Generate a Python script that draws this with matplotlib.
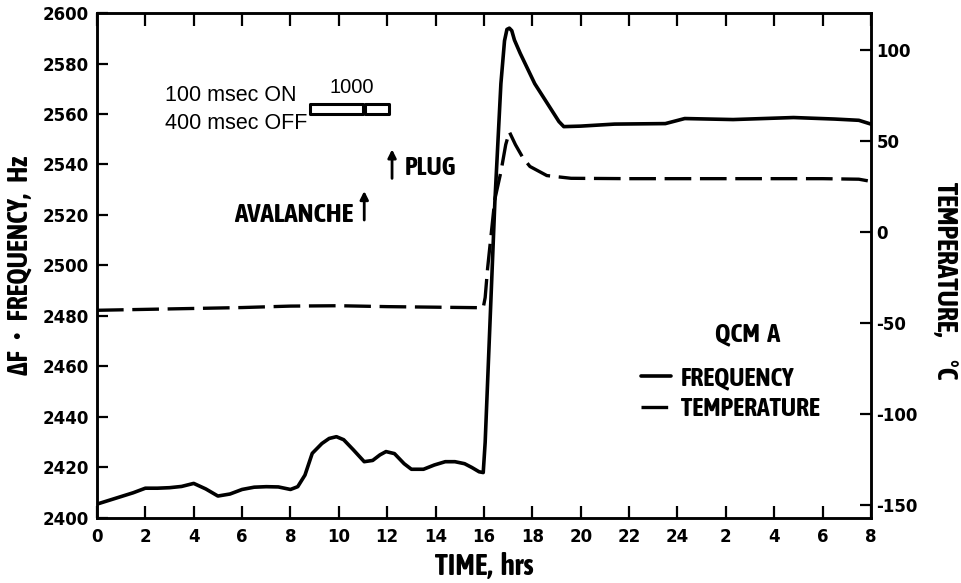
import matplotlib
matplotlib.use("Agg")
from matplotlib import pyplot as plt
from matplotlib.patches import Rectangle

NARROW = ['Asap Condensed', 'DejaVu Sans']
plt.rcParams['font.family'] = ['DejaVu Sans']
plt.rcParams['axes.unicode_minus'] = False

# frequency (left axis), hours from start
freq_t = [0, 0.5, 1, 1.5, 2, 2.5, 3, 3.5, 4, 4.5, 5, 5.5, 6, 6.5, 7, 7.5, 8, 8.3,
          8.6, 8.9, 9.3, 9.6, 9.9, 10.2, 10.6, 11.05, 11.4, 11.7, 11.95, 12.3, 12.7,
          13.0, 13.5, 13.95, 14.4, 14.8, 15.2, 15.5, 15.8, 15.97,
          16.05, 16.45, 16.7, 16.85, 16.95, 17.05, 17.15, 17.26, 17.5, 17.7, 18.1,
          18.7, 19.1, 19.3, 20.0, 21.4, 23.5, 24.3, 26.3, 28.8, 30.5, 31.5, 32]
freq_hz = [2405.5, 2407, 2408.5, 2410, 2411.8, 2411.8, 2412, 2412.5, 2413.7, 2411.5,
           2408.7, 2409.5, 2411.3, 2412.2, 2412.4, 2412.3, 2411.3, 2412.4,
           2417, 2425.6, 2429.5, 2431.5, 2432.2, 2431, 2427, 2422.3, 2422.8, 2425,
           2426.3, 2425.5, 2421.5, 2419.3, 2419.3, 2421, 2422.3, 2422.3, 2421.5,
           2420, 2418.3, 2418,
           2430, 2525, 2572, 2589, 2593.5, 2594, 2593, 2589.3, 2584, 2580, 2572,
           2563, 2557, 2555, 2555.2, 2556, 2556.2, 2558.2, 2557.8, 2558.6, 2558, 2557.5, 2556]

# temperature (right axis), deg C
temp_t = [0, 2, 4, 6, 8, 10, 12, 14, 15.97, 16.05, 16.15, 16.45, 16.7, 16.9, 17.05,
          17.3, 17.6, 17.9, 18.6, 19.6, 22, 24, 26, 28, 30, 31.5, 32]
temp_c = [-43, -42.5, -42, -41.5, -40.7, -40.5, -41, -41.3, -41.6, -36, -20, 18, 33,
          48, 55, 48, 41, 36, 31, 29.5, 29.3, 29.3, 29.3, 29.3, 29.3, 29, 27.8]

x_ticks = list(range(0, 33, 2))
x_labels = ['0', '2', '4', '6', '8', '10', '12', '14', '16', '18', '20', '22', '24',
            '2', '4', '6', '8']
freq_ticks = list(range(2400, 2601, 20))
temp_ticks = [-150, -100, -50, 0, 50, 100]

# pulse periods (hours) shown as boxes near the top
pulse_periods = [(8.8, 11.0), (11.1, 12.07)]
avalanche_t = 11.05
plug_t = 12.2

fig = plt.figure(figsize=(9.61, 5.83), dpi=100)
ax = fig.add_axes([0.1009, 0.1115, 0.8054, 0.8662])
ax2 = ax.twinx()

ax.plot(freq_t, freq_hz, color='black', lw=2.6, solid_joinstyle='round',
        solid_capstyle='round', label='FREQUENCY')
ax2.plot(temp_t, temp_c, color='black', lw=2.4, dashes=(8, 2.6),
         label='TEMPERATURE')

ax.set_xlim(0, 32)
ax.set_ylim(2400, 2600)
ax2.set_ylim(-157.1, 120.3)
ax.set_xticks(x_ticks)
ax.set_xticklabels(x_labels)
ax.set_yticks(freq_ticks)
ax2.set_yticks(temp_ticks)

for a in (ax, ax2):
    for s in a.spines.values():
        s.set_linewidth(1.8)
ax.tick_params(axis='x', which='both', direction='in', top=True, length=9, width=1.6,
               pad=7, labelsize=12)
ax.tick_params(axis='y', direction='in', length=8, width=1.6, pad=6, labelsize=12)
ax2.tick_params(axis='y', direction='in', length=8, width=1.6, pad=4, labelsize=12)
for lab in ax.get_xticklabels() + ax.get_yticklabels() + ax2.get_yticklabels():
    lab.set_fontweight('bold')

ax.set_xlabel('TIME,  hrs', family=NARROW, fontsize=21, fontweight='bold')
ax.xaxis.set_label_coords(0.5, -0.097)
ax.xaxis.label.set_va('center')
ax.set_ylabel('ΔF   •   FREQUENCY,   Hz', family=NARROW, fontsize=20, fontweight='bold')
ax.yaxis.set_label_coords(-0.0995, 0.5)
ax.yaxis.label.set_va('center')
ax2.set_ylabel('TEMPERATURE,      °C', family=NARROW, fontsize=20, fontweight='bold',
               rotation=-90)
ax2.yaxis.set_label_coords(1.0956, 0.47)
ax2.yaxis.label.set_va('center')

# pulse annotation
ax.text(2.82, 2567.5, '100 msec ON', family='Liberation Sans', fontsize=15.5,
        va='center')
ax.text(2.82, 2556.4, '400 msec OFF', family='Liberation Sans', fontsize=15.5,
        va='center')
for start, end in pulse_periods:
    ax.add_patch(Rectangle((start, 2560), end - start, 3.8, fill=False,
                           lw=2.2, ec='black', joinstyle='round'))
ax.text(10.54, 2570.5, '1000', family='Liberation Sans', fontsize=14.5, ha='center',
        va='center')

ax.annotate('', xy=(avalanche_t, 2529.5), xytext=(avalanche_t, 2518),
            arrowprops=dict(arrowstyle='-|>', lw=2, color='black', mutation_scale=12,
                            shrinkA=0, shrinkB=0))
ax.text(10.62, 2520, 'AVALANCHE', family=NARROW, fontsize=19.5, fontweight='bold',
        ha='right', va='center')
ax.annotate('', xy=(plug_t, 2546), xytext=(plug_t, 2534.5),
            arrowprops=dict(arrowstyle='-|>', lw=2, color='black', mutation_scale=12,
                            shrinkA=0, shrinkB=0))
ax.text(12.74, 2539, 'PLUG', family=NARROW, fontsize=18.5, fontweight='bold',
        va='center')

# legend
ax2.text(0.84, 0.364, 'QCM  A', transform=ax2.transAxes, family=NARROW, fontsize=19,
         fontweight='bold', ha='center', va='center')
h1, l1 = ax.get_legend_handles_labels()
h2, l2 = ax2.get_legend_handles_labels()
leg = ax2.legend(h1 + h2, l1 + l2, loc='upper left', bbox_to_anchor=(0.703, 0.302),
                 frameon=False, borderpad=0, borderaxespad=0, handlelength=1.15,
                 handletextpad=0.4, labelspacing=0.2,
                 prop=dict(family=NARROW, size=18.5, weight='bold'))

fig.savefig('out.png', dpi=100)
